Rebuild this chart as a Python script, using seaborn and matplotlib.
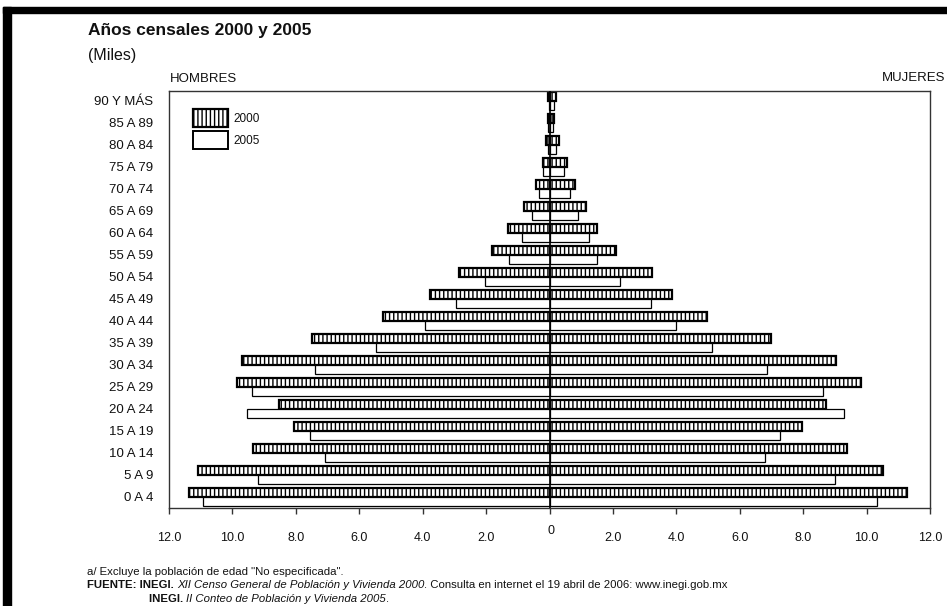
import numpy as np
import pandas as pd
import matplotlib
matplotlib.use("Agg")
import matplotlib.pyplot as plt
import matplotlib.patches as mpatches
import seaborn as sns

# Grupos de edad, de arriba hacia abajo
edades = ['90 Y MÁS', '85 A 89', '80 A 84', '75 A 79', '70 A 74', '65 A 69',
          '60 A 64', '55 A 59', '50 A 54', '45 A 49', '40 A 44', '35 A 39',
          '30 A 34', '25 A 29', '20 A 24', '15 A 19', '10 A 14', '5 A 9', '0 A 4']
anios = ['2000', '2005']

hombres_2000 = [0.05, 0.05, 0.10, 0.22, 0.43, 0.79, 1.30, 1.82, 2.85, 3.76,
                5.24, 7.49, 9.70, 9.85, 8.54, 8.06, 9.36, 11.07, 11.36]
hombres_2005 = [0.03, 0.04, 0.06, 0.20, 0.33, 0.55, 0.88, 1.27, 2.04, 2.96,
                3.94, 5.47, 7.41, 9.39, 9.53, 7.56, 7.08, 9.18, 10.93]
mujeres_2000 = [0.20, 0.15, 0.29, 0.55, 0.80, 1.16, 1.51, 2.11, 3.24, 3.86,
                4.96, 6.97, 9.04, 9.81, 8.73, 7.95, 9.37, 10.52, 11.28]
mujeres_2005 = [0.15, 0.12, 0.22, 0.45, 0.65, 0.89, 1.25, 1.50, 2.21, 3.19,
                4.00, 5.14, 6.86, 8.64, 9.30, 7.26, 6.79, 8.99, 10.33]

ticks = [-12, -10, -8, -6, -4, -2, 0, 2, 4, 6, 8, 10, 12]
tick_labels = ['12.0', '10.0', '8.0', '6.0', '4.0', '2.0', '',
               '2.0', '4.0', '6.0', '8.0', '10.0', '12.0']

sns.set_theme(style='white')
plt.rcParams['font.family'] = ['Liberation Sans', 'DejaVu Sans']
plt.rcParams['hatch.linewidth'] = 1.0
plt.rcParams['text.color'] = '#111111'

n = len(edades)
hombres = pd.DataFrame({'edad': edades * 2,
                        'año': [anios[0]] * n + [anios[1]] * n,
                        'valor': -np.array(hombres_2000 + hombres_2005)})
mujeres = pd.DataFrame({'edad': edades * 2,
                        'año': [anios[0]] * n + [anios[1]] * n,
                        'valor': np.array(mujeres_2000 + mujeres_2005)})

W, H = 947, 606
fig = plt.figure(figsize=(W / 100, H / 100), dpi=100)
ax = fig.add_axes([169 / W, 1 - 508 / H, (930 - 169) / W, (508 - 91) / H])

for df in (hombres, mujeres):
    sns.barplot(data=df, x='valor', y='edad', hue='año', order=edades,
                hue_order=anios, palette=['white', 'white'], orient='h',
                width=0.82, errorbar=None, legend=False, ax=ax,
                edgecolor='black')

# 2000 rayado, 2005 en blanco
for i, cont in enumerate(ax.containers):
    for bar in cont:
        if i % 2 == 0:
            bar.set_hatch('||||')
            bar.set_linewidth(1.6)
        else:
            bar.set_linewidth(0.9)

ax.axvline(0, color='black', lw=1.2, zorder=5)
ax.set_xlim(-12, 12)
ax.set_ylim(n - 0.5, -0.45)
ax.set_xticks(ticks)
ax.set_xticklabels(tick_labels)
ax.set_xlabel('')
ax.set_ylabel('')
ax.tick_params(axis='x', bottom=True, direction='out', length=4, width=1,
               color='#333333', pad=13, labelsize=9, labelcolor='#111111')
ax.tick_params(axis='y', left=False, length=0, pad=11.5, labelsize=9.5,
               labelcolor='#111111')
ax.annotate('0', xy=(0, 0), xycoords=('data', 'axes fraction'),
            xytext=(1, -12.5), textcoords='offset points', ha='center',
            va='top', fontsize=9, color='#111111')
for s in ax.spines.values():
    s.set_visible(True)
    s.set_color('#333333')
    s.set_linewidth(1)

handles = [mpatches.Patch(facecolor='white', edgecolor='black', hatch='||||',
                          linewidth=1.6, label='2000'),
           mpatches.Patch(facecolor='white', edgecolor='black',
                          linewidth=1.4, label='2005')]
ax.legend(handles=handles, loc='upper left',
          bbox_to_anchor=(24 / 761, 1 - 18 / 417), frameon=False,
          fontsize=8.5, handlelength=3.0, handleheight=2.0,
          labelspacing=0.3, handletextpad=0.4, borderpad=0, borderaxespad=0)

# Textos
fig.text(88 / W, 1 - 35 / H, 'Años censales 2000 y 2005', fontsize=12.5,
         fontweight='bold', va='baseline')
fig.text(88 / W, 1 - 60 / H, '(Miles)', fontsize=11.5, va='baseline')
fig.text(170 / W, 1 - 79 / H, 'HOMBRES', fontsize=9.5, va='center')
fig.text(945 / W, 1 - 78 / H, 'MUJERES', fontsize=9.5, va='center', ha='right')


def linea_mixta(x, y, piezas, size=8.2):
    prev = fig.text(x / W, 1 - y / H, piezas[0][0], fontsize=size,
                    va='baseline', **piezas[0][1])
    for txt, kw in piezas[1:]:
        prev = ax.annotate(txt, xy=(1, 0), xycoords=prev, va='bottom',
                           ha='left', fontsize=size, annotation_clip=False,
                           **kw)


normal = {}
negrita = {'fontweight': 'bold'}
cursiva = {'fontstyle': 'italic'}

linea_mixta(87, 575, [('a/ Excluye la población de edad "No especificada".', normal)])
linea_mixta(87, 588, [('FUENTE: INEGI. ', negrita),
                      ('XII Censo General de Población y Vivienda 2000', cursiva),
                      ('. Consulta en internet el 19 abril de 2006: www.inegi.gob.mx', normal)])
linea_mixta(149, 602, [('INEGI. ', negrita),
                       ('II Conteo de Población y Vivienda 2005', cursiva),
                       ('.', normal)])

# Marco negro superior e izquierdo
fig.add_artist(mpatches.Rectangle((3 / W, 0), 8 / W, (H - 7) / H,
                                  transform=fig.transFigure, color='black'))
fig.add_artist(mpatches.Rectangle((3 / W, 1 - 13 / H), (W - 3) / W, 6 / H,
                                  transform=fig.transFigure, color='black'))

fig.savefig('out.png', dpi=100)
